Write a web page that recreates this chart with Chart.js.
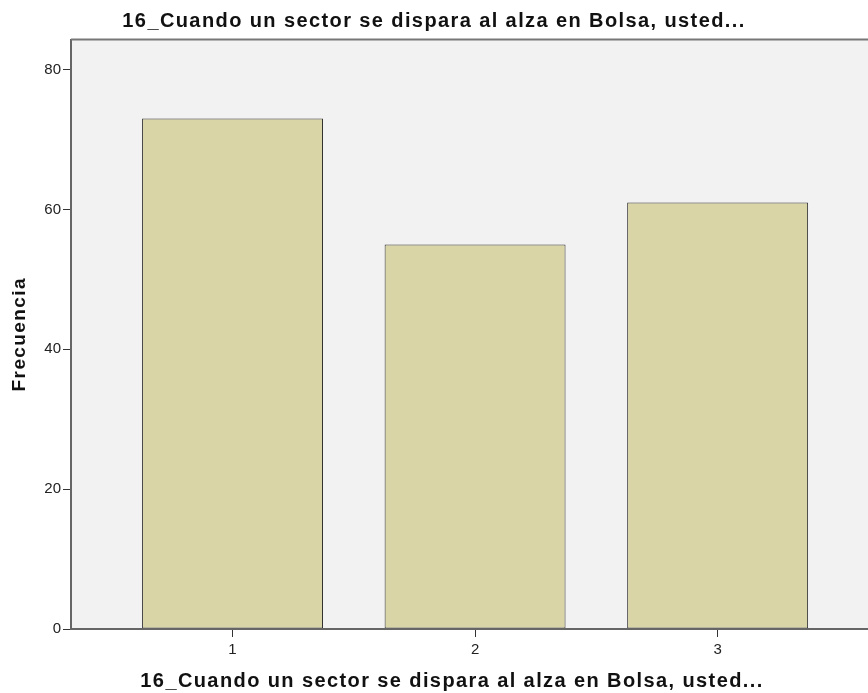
<!DOCTYPE html>
<html>
<head>
    <title>16_Cuando un sector se dispara al alza en Bolsa</title>
    <script src="https://cdn.jsdelivr.net/npm/chart.js"></script>
    <style>
        html, body { margin: 0; padding: 0; background: #fff; }
        #wrap { width: 868px; height: 693px; }
    </style>
</head>
<body>
    <div id="wrap"><canvas id="freqChart"></canvas></div>
    <script>
        // values
        const categories = [1, 2, 3];
        const frecuencias = [73, 55, 61];
        const yTicks = [0, 20, 40, 60, 80];
        const titulo = '16_Cuando un sector se dispara al alza en Bolsa, usted...';
        const tituloEjeY = 'Frecuencia';

        // grey plot background + top frame line, and the x title (SPSS centres it a bit left)
        const plotFrame = {
            id: 'plotFrame',
            beforeDraw(chart) {
                const { ctx, chartArea: a } = chart;
                ctx.fillStyle = '#f2f2f2';
                ctx.fillRect(a.left, a.top, a.right - a.left, a.bottom - a.top);
                // SPSS titles are a bit wider than Arial, so space the letters out
                ctx.letterSpacing = '1.4px';
            },
            beforeDatasetsDraw(chart) {
                // tick labels are drawn after this (z: 1), keep them tight
                chart.ctx.letterSpacing = '0px';
            },
            afterDraw(chart) {
                const { ctx, chartArea: a } = chart;
                ctx.save();
                ctx.strokeStyle = '#777';
                ctx.lineWidth = 2;
                ctx.beginPath();
                ctx.moveTo(a.left, a.top);
                ctx.lineTo(a.right, a.top);
                ctx.stroke();
                ctx.fillStyle = '#111';
                ctx.font = 'bold 20px Arial';
                ctx.letterSpacing = '1.4px';
                ctx.textAlign = 'center';
                ctx.textBaseline = 'middle';
                ctx.fillText(titulo, 452, 681);
                ctx.restore();
                ctx.letterSpacing = '0px';
            }
        };

        const ctx = document.getElementById('freqChart').getContext('2d');
        new Chart(ctx, {
            type: 'bar',
            data: {
                datasets: [{
                    label: tituloEjeY,
                    data: categories.map((c, i) => ({ x: c, y: frecuencias[i] })),
                    backgroundColor: '#d9d5a7',
                    borderColor: '#333',
                    borderWidth: 1,
                    borderSkipped: false,
                    categoryPercentage: 1,
                    barPercentage: 0.746
                }]
            },
            options: {
                responsive: true,
                maintainAspectRatio: false,
                animation: false,
                layout: { padding: 0 },
                plugins: {
                    legend: { display: false },
                    tooltip: { enabled: false },
                    title: {
                        display: true,
                        text: titulo,
                        color: '#111',
                        font: { family: 'Arial', size: 20, weight: 'bold' },
                        padding: { top: 9, bottom: 6.5 }
                    }
                },
                scales: {
                    x: {
                        type: 'linear',
                        min: 0.334,
                        max: 3.62,
                        offset: false,
                        grid: { offset: false, drawOnChartArea: false, tickLength: 8, color: '#333', tickWidth: 1 },
                        border: { color: '#666', width: 2, z: 1 },
                        ticks: {
                            z: 1,
                            stepSize: 1,
                            includeBounds: false,
                            padding: 4,
                            color: '#222',
                            font: { family: 'Arial', size: 15 }
                        },
                        afterFit(scale) { scale.height = 64; }
                    },
                    y: {
                        min: 0,
                        max: 84.3,
                        grid: { drawOnChartArea: false, tickLength: 8, color: '#333', tickWidth: 1 },
                        border: { color: '#666', width: 2, z: 1 },
                        afterBuildTicks(scale) { scale.ticks = yTicks.map(v => ({ value: v })); },
                        ticks: {
                            z: 1,
                            padding: 2,
                            color: '#222',
                            font: { family: 'Arial', size: 15 }
                        },
                        title: {
                            display: true,
                            text: tituloEjeY,
                            color: '#111',
                            font: { family: 'Arial', size: 19, weight: 'bold' },
                            padding: { top: 8, bottom: 0 }
                        },
                        afterFit(scale) { scale.width = 71; }
                    }
                }
            },
            plugins: [plotFrame]
        });
    </script>
</body>
</html>
